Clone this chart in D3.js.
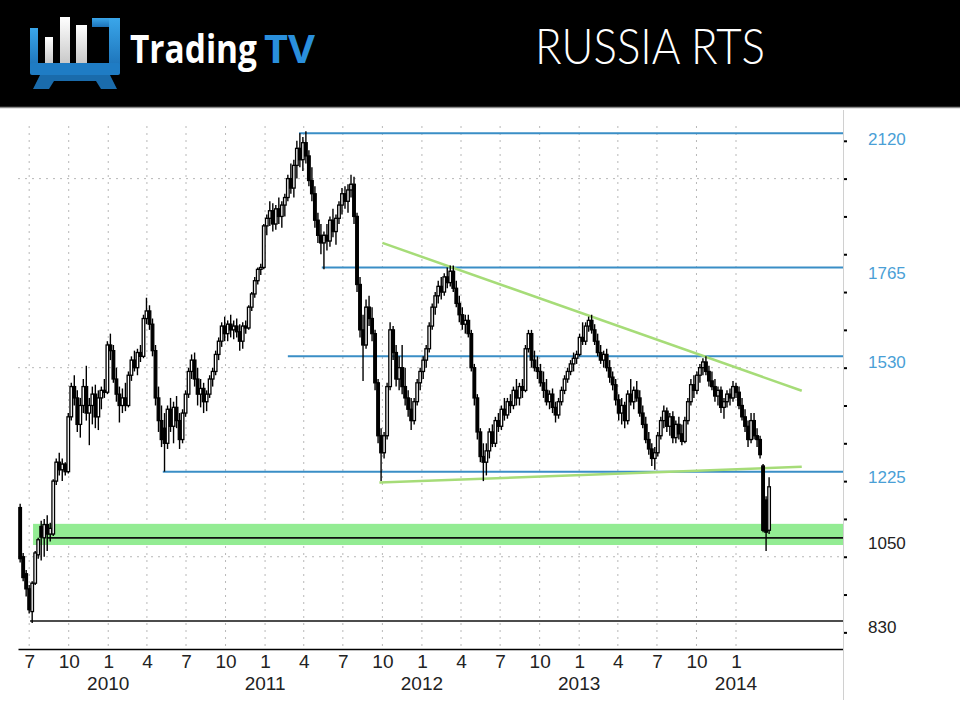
<!DOCTYPE html>
<html>
<head>
<meta charset="utf-8">
<script src="https://cdn.jsdelivr.net/npm/d3@7"></script>
<style>
  html, body { margin: 0; padding: 0; background: #fff; }
  svg { display: block; }
</style>
</head>
<body>
<div id="chart"></div>
<script>
// weekly RTS candles [open, high, low, close], first week starts 2009-06-08
const firstWeek = new Date(2009, 5, 8);

const candles2009 = [
  [1130,1140,985,995],[1000,1010,935,945],[955,965,895,915],[915,925,850,860],
  [855,935,825,930],[930,1015,925,1010],[1005,1050,995,1045],[1080,1095,990,1052],
  [1050,1100,1000,1085],[1085,1110,1015,1060],[1060,1090,1040,1075],[1060,1205,1055,1200],
  [1200,1260,1190,1250],[1250,1275,1215,1230],[1230,1260,1200,1245],[1245,1250,1215,1225],
  [1225,1380,1220,1370],[1370,1460,1360,1450],[1450,1480,1400,1420],[1420,1440,1330,1350],
  [1350,1420,1315,1400],[1400,1470,1380,1450],[1450,1505,1360,1380],[1380,1420,1295,1400],
  [1400,1450,1350,1430],[1430,1455,1340,1370],[1370,1440,1335,1420],[1420,1450,1390,1440],
  [1440,1470,1420,1435],[1435,1570,1430,1560]
];

const candles2010 = [
  [1560,1590,1520,1545],[1545,1560,1460,1470],[1470,1500,1410,1430],[1430,1450,1355,1400],
  [1400,1445,1380,1420],[1420,1460,1385,1400],[1400,1490,1395,1480],[1480,1530,1465,1520],
  [1520,1545,1490,1500],[1500,1550,1480,1540],[1540,1560,1515,1530],[1530,1640,1525,1630],
  [1630,1685,1615,1650],[1650,1665,1600,1615],[1615,1630,1530,1545],[1545,1560,1400,1420],
  [1420,1450,1330,1360],[1360,1400,1290,1310],[1340,1380,1225,1300],[1300,1400,1285,1390],
  [1390,1420,1330,1345],[1345,1410,1300,1395],[1395,1425,1340,1360],[1360,1380,1285,1310],
  [1310,1390,1300,1380],[1380,1440,1370,1430],[1430,1500,1420,1490],[1490,1535,1470,1520],
  [1520,1540,1450,1470],[1470,1500,1400,1430],[1430,1470,1395,1445],[1445,1460,1380,1410],
  [1410,1440,1385,1430],[1430,1480,1420,1470],[1470,1500,1450,1490],[1490,1545,1480,1535],
  [1535,1580,1520,1570],[1570,1620,1555,1610],[1610,1635,1570,1590],[1590,1625,1570,1615],
  [1615,1640,1580,1600],[1600,1625,1575,1610],[1610,1630,1580,1595],[1595,1615,1545,1570],
  [1570,1620,1550,1610],[1610,1625,1590,1605],[1605,1665,1600,1660],[1660,1700,1650,1695],
  [1695,1740,1685,1730],[1730,1765,1720,1760],[1760,1775,1745,1765],[1765,1880,1760,1875]
];

const candles2011 = [
  [1875,1905,1850,1895],[1895,1940,1875,1915],[1915,1935,1860,1880],[1880,1930,1865,1920],
  [1920,1950,1880,1900],[1900,1940,1870,1930],[1930,1960,1900,1950],[1950,2010,1940,2000],
  [2000,2040,1960,1975],[1975,2050,1950,2035],[2035,2100,2000,2080],[2080,2120,2030,2050],
  [2050,2110,2020,2095],[2095,2125,2040,2060],[2060,2075,1980,1995],[1995,2030,1940,1960],
  [1960,1980,1870,1890],[1890,1910,1830,1850],[1850,1880,1800,1830],[1830,1860,1760,1850],
  [1850,1880,1810,1835],[1835,1900,1820,1890],[1890,1920,1845,1860],[1860,1905,1825,1895],
  [1895,1940,1880,1930],[1930,1975,1905,1960],[1960,1980,1920,1940],[1940,1985,1910,1970],
  [1970,2010,1950,1985],[1985,2005,1880,1900],[1900,1910,1700,1720],[1720,1740,1580,1600],
  [1600,1640,1465,1560],[1560,1680,1550,1660],[1660,1690,1610,1630],[1630,1660,1570,1590],
  [1590,1600,1440,1460],[1460,1470,1300,1320],[1320,1340,1200,1275],[1275,1330,1260,1320],
  [1320,1460,1310,1450],[1450,1620,1440,1600],[1600,1610,1520,1540],[1540,1560,1450,1470],
  [1470,1530,1440,1500],[1500,1560,1430,1450],[1450,1500,1400,1420],[1420,1440,1370,1390],
  [1390,1420,1335,1360],[1360,1420,1350,1410],[1410,1470,1400,1460],[1460,1500,1440,1490]
];

const candles2012 = [
  [1490,1530,1470,1520],[1520,1560,1500,1550],[1550,1620,1540,1610],[1610,1670,1600,1660],
  [1660,1700,1640,1690],[1690,1730,1670,1715],[1715,1740,1680,1700],[1700,1750,1690,1740],
  [1740,1765,1710,1725],[1725,1770,1715,1755],[1755,1770,1700,1710],[1710,1730,1660,1670],
  [1670,1690,1620,1640],[1640,1660,1600,1615],[1615,1640,1590,1625],[1625,1640,1580,1590],
  [1590,1600,1490,1500],[1500,1510,1400,1420],[1420,1430,1310,1330],[1330,1340,1250,1265],
  [1265,1300,1200,1250],[1250,1300,1215,1280],[1280,1340,1260,1330],[1330,1350,1290,1300],
  [1300,1370,1290,1360],[1360,1380,1330,1345],[1345,1400,1335,1390],[1390,1420,1360,1375],
  [1375,1420,1365,1410],[1410,1430,1380,1400],[1400,1450,1390,1440],[1440,1470,1400,1420],
  [1420,1460,1400,1450],[1450,1470,1420,1440],[1440,1560,1435,1550],[1550,1600,1540,1590],
  [1590,1600,1500,1520],[1520,1545,1490,1500],[1500,1530,1470,1490],[1490,1510,1450,1460],
  [1460,1490,1420,1440],[1440,1470,1400,1410],[1410,1440,1390,1430],[1430,1445,1380,1395],
  [1395,1410,1355,1375],[1375,1420,1365,1410],[1410,1450,1400,1440],[1440,1480,1430,1470],
  [1470,1500,1460,1490],[1490,1520,1480,1510],[1510,1540,1490,1525],[1525,1545,1510,1535],
  [1535,1590,1530,1580]
];

const candles2013 = [
  [1580,1620,1560,1570],[1570,1620,1560,1610],[1610,1635,1595,1625],[1625,1640,1590,1600],
  [1600,1615,1560,1570],[1570,1590,1530,1540],[1540,1560,1510,1520],[1520,1545,1500,1535],
  [1535,1550,1490,1500],[1500,1520,1460,1475],[1475,1490,1440,1455],[1455,1470,1400,1415],
  [1415,1430,1360,1380],[1380,1420,1350,1400],[1400,1410,1340,1360],[1360,1440,1350,1430],
  [1430,1470,1400,1410],[1410,1450,1390,1440],[1440,1465,1410,1420],[1420,1440,1370,1380],
  [1380,1400,1340,1350],[1350,1370,1300,1310],[1310,1330,1270,1285],[1285,1300,1240,1260],
  [1260,1290,1230,1275],[1275,1330,1265,1320],[1320,1370,1310,1360],[1360,1400,1340,1385],
  [1385,1395,1330,1345],[1345,1380,1320,1370],[1370,1385,1300,1315],[1315,1360,1300,1350],
  [1350,1370,1310,1325],[1325,1350,1295,1305],[1305,1370,1300,1360],[1360,1420,1350,1410],
  [1410,1470,1400,1455],[1455,1480,1420,1440],[1440,1490,1430,1480],[1480,1510,1460,1500],
  [1500,1525,1480,1515],[1515,1530,1480,1490],[1490,1505,1450,1465],[1465,1490,1440,1450],
  [1450,1470,1410,1425],[1425,1450,1400,1440],[1440,1450,1380,1395],[1395,1420,1365,1410],
  [1410,1440,1395,1430],[1430,1445,1400,1420],[1420,1465,1410,1450],[1450,1460,1420,1435]
];

const candles2014 = [
  [1435,1450,1390,1400],[1400,1420,1360,1370],[1370,1390,1330,1345],[1345,1360,1290,1310],
  [1310,1380,1300,1360],[1360,1380,1310,1320],[1320,1340,1290,1310],[1310,1320,1260,1270],
  [1240,1245,1065,1070],[1150,1160,1015,1065],[1070,1210,1060,1185]
];

// horizontal levels drawn on the chart
const levelValues = [2120, 1765, 1530, 1225, 1050, 830];
const levelStarts = ['2011-03-21', '2011-05-13', '2011-02-23', '2010-05-08', '2009-08-11', '2009-07-03'];
const levelKinds = ['resistance', 'resistance', 'resistance', 'resistance', 'key', 'key'];

// support zone (green band)
const bandRange = [1031, 1087];
const bandStart = '2009-07-10';

// triangle trendlines
const upperTrend = [['2011-10-01', 1830], ['2014-06-03', 1439]];
const lowerTrend = [['2011-09-24', 1196], ['2014-06-03', 1238]];

// axis
const monthTicks = d3.timeMonth.range(new Date(2009, 6, 1), new Date(2014, 0, 2), 3);
const yearLabels = [2010, 2011, 2012, 2013, 2014];
const gridPrices = [1000, 1500, 2000];

const width = 960;
const height = 720;
const parse = d3.timeParse('%Y-%m-%d');
const labelFont = '"Liberation Sans", Arial, sans-serif';

const svg = d3.select('#chart')
    .append('svg')
    .attr('width', width)
    .attr('height', height);

// ---------- header ----------
const header = svg.append('g');
header.append('rect')
    .attr('width', width).attr('height', 107)
    .attr('fill', '#000');
header.append('line')
    .attr('x1', 0).attr('x2', width)
    .attr('y1', 107.5).attr('y2', 107.5)
    .attr('stroke', '#8a8a8a').attr('stroke-width', 1.5);

const defs = svg.append('defs');
const blueGrad = defs.append('linearGradient')
    .attr('id', 'logoBlue').attr('x1', 0).attr('y1', 0).attr('x2', 0).attr('y2', 1);
blueGrad.append('stop').attr('offset', '0%').attr('stop-color', '#3aa6ea');
blueGrad.append('stop').attr('offset', '100%').attr('stop-color', '#1c72b8');
const whiteGrad = defs.append('linearGradient')
    .attr('id', 'logoWhite').attr('x1', 0).attr('y1', 0).attr('x2', 0).attr('y2', 1);
whiteGrad.append('stop').attr('offset', '0%').attr('stop-color', '#ffffff');
whiteGrad.append('stop').attr('offset', '100%').attr('stop-color', '#c9c9c9');

const logo = header.append('g');
// monitor frame
logo.append('rect').attr('x', 30).attr('y', 28).attr('width', 8).attr('height', 40).attr('fill', 'url(#logoBlue)');
logo.append('rect').attr('x', 92).attr('y', 18).attr('width', 28).attr('height', 9).attr('fill', 'url(#logoBlue)');
logo.append('rect').attr('x', 109).attr('y', 18).attr('width', 11).attr('height', 50).attr('fill', 'url(#logoBlue)');
logo.append('rect').attr('x', 30).attr('y', 63).attr('width', 90).attr('height', 12).attr('rx', 2).attr('fill', '#1f7cc4');
logo.append('path')
    .attr('d', 'M40,75 L110,75 L117,89 L101,89 L96,81 L54,81 L49,89 L33,89 Z')
    .attr('fill', '#1a6bab');
// bars
logo.append('rect').attr('x', 45).attr('y', 37).attr('width', 8).attr('height', 26).attr('fill', 'url(#logoWhite)');
logo.append('rect').attr('x', 60).attr('y', 17).attr('width', 10).attr('height', 46).attr('fill', 'url(#logoWhite)');
logo.append('rect').attr('x', 76).attr('y', 25).attr('width', 11).attr('height', 38).attr('fill', 'url(#logoWhite)');

// brand name: squeeze each word horizontally to its slot in the logo
function squeezedText(parent, str, left, slotWidth, color) {
    const t = parent.append('text')
        .style('font-family', '"Open Sans", Arial, sans-serif')
        .style('font-weight', 700)
        .style('font-size', '40px')
        .attr('fill', color)
        .text(str);
    const natural = t.node().getComputedTextLength();
    t.attr('transform', `translate(${left},63) scale(${slotWidth / natural},1)`);
    return t;
}
squeezedText(header, 'Trading', 130, 127, '#fff');
squeezedText(header, 'TV', 264, 51, '#2a8fdc');

header.append('text')
    .attr('x', 535).attr('y', 64)
    .attr('textLength', 230).attr('lengthAdjust', 'spacingAndGlyphs')
    .style('font-family', 'Lato, "Open Sans", sans-serif')
    .style('font-weight', 300)
    .style('font-size', '49px')
    .attr('fill', '#fff')
    .text('RUSSIA RTS');

// ---------- scales ----------
const x = d3.scaleTime()
    .domain([new Date(2009, 5, 5), new Date(2014, 8, 7)])
    .range([18, 843]);

const y = d3.scaleLinear()
    .domain([756, 2155])
    .range([649, 120]);

const plot = svg.append('g');

// dotted grid
plot.append('g')
    .selectAll('line')
    .data(monthTicks)
    .join('line')
    .attr('x1', d => x(d)).attr('x2', d => x(d))
    .attr('y1', y(2155) + 6).attr('y2', y.range()[0])
    .attr('stroke', '#b8b8b8')
    .attr('stroke-dasharray', '2,5');

plot.append('g')
    .selectAll('line')
    .data(gridPrices)
    .join('line')
    .attr('x1', x.range()[0]).attr('x2', x.range()[1])
    .attr('y1', d => y(d)).attr('y2', d => y(d))
    .attr('stroke', '#b8b8b8')
    .attr('stroke-dasharray', '2,5');

// green support band
plot.append('rect')
    .attr('x', x(parse(bandStart)))
    .attr('width', x.range()[1] - x(parse(bandStart)))
    .attr('y', y(bandRange[1]))
    .attr('height', y(bandRange[0]) - y(bandRange[1]))
    .attr('fill', '#93ec93');

// horizontal levels
const levels = levelValues.map((v, i) => ({ value: v, start: parse(levelStarts[i]), kind: levelKinds[i] }));

plot.append('g')
    .selectAll('line')
    .data(levels)
    .join('line')
    .attr('x1', d => x(d.start)).attr('x2', x.range()[1])
    .attr('y1', d => y(d.value)).attr('y2', d => y(d.value))
    .attr('stroke', d => d.kind === 'key' ? '#111' : '#3a8ec6')
    .attr('stroke-width', d => d.kind === 'key' ? 1.6 : 2);

// trendlines
const trendLine = d3.line()
    .x(d => x(parse(d[0])))
    .y(d => y(d[1]));

plot.append('g')
    .selectAll('path')
    .data([upperTrend, lowerTrend])
    .join('path')
    .attr('d', trendLine)
    .attr('fill', 'none')
    .attr('stroke', '#a6dc78')
    .attr('stroke-width', 2.5);

// candles
const candles = [...candles2009, ...candles2010, ...candles2011, ...candles2012, ...candles2013, ...candles2014]
    .map((d, i) => ({
        date: d3.timeDay.offset(d3.timeWeek.offset(firstWeek, i), 2),
        open: d[0], high: d[1], low: d[2], close: d[3]
    }));

const bodyW = 2.6;
const candleG = plot.append('g')
    .selectAll('g')
    .data(candles)
    .join('g');

candleG.append('line')
    .attr('x1', d => x(d.date)).attr('x2', d => x(d.date))
    .attr('y1', d => y(d.high)).attr('y2', d => y(d.low))
    .attr('stroke', '#000')
    .attr('stroke-width', 1.4);

candleG.append('rect')
    .attr('x', d => x(d.date) - bodyW / 2)
    .attr('width', bodyW)
    .attr('y', d => y(Math.max(d.open, d.close)))
    .attr('height', d => Math.max(1, Math.abs(y(d.open) - y(d.close))))
    .attr('fill', d => d.close >= d.open ? '#fff' : '#000')
    .attr('stroke', '#000')
    .attr('stroke-width', 1.3);

// ---------- axes ----------
// bottom axis with month numbers
const xAxis = d3.axisBottom(x)
    .tickValues(monthTicks)
    .tickSize(0)
    .tickSizeOuter(0)
    .tickPadding(6)
    .tickFormat(d => d3.timeFormat('%-m')(d));

const xAxisG = svg.append('g')
    .attr('transform', `translate(0,${y.range()[0]})`)
    .call(xAxis);
xAxisG.select('.domain').attr('stroke', '#000').attr('stroke-width', 1.5);
xAxisG.selectAll('text')
    .style('font-family', labelFont)
    .style('font-size', '19px')
    .attr('fill', '#222');

svg.append('g')
    .selectAll('text')
    .data(yearLabels)
    .join('text')
    .attr('x', d => x(new Date(d, 0, 1)))
    .attr('y', 690)
    .attr('text-anchor', 'middle')
    .style('font-family', labelFont)
    .style('font-size', '19px')
    .attr('fill', '#222')
    .text(d => d);

// right axis: thin line, dot ticks and level labels
svg.append('line')
    .attr('x1', 843.5).attr('x2', 843.5)
    .attr('y1', 110).attr('y2', 700)
    .attr('stroke', '#d0d0d0');

const yAxis = d3.axisRight(y)
    .tickValues(d3.range(800, 2101, 100))
    .tickSize(3)
    .tickFormat('');

const yAxisG = svg.append('g')
    .attr('transform', 'translate(844,0)')
    .call(yAxis);
yAxisG.select('.domain').remove();
yAxisG.selectAll('.tick line').attr('stroke', '#000').attr('stroke-width', 2);

svg.append('g')
    .selectAll('text')
    .data(levels)
    .join('text')
    .attr('x', 868)
    .attr('y', d => y(d.value) + 6)
    .attr('dominant-baseline', 'central')
    .style('font-family', labelFont)
    .style('font-size', '17px')
    .attr('fill', d => d.kind === 'key' ? '#222' : '#4a9fd6')
    .text(d => d.value);
</script>
</body>
</html>
